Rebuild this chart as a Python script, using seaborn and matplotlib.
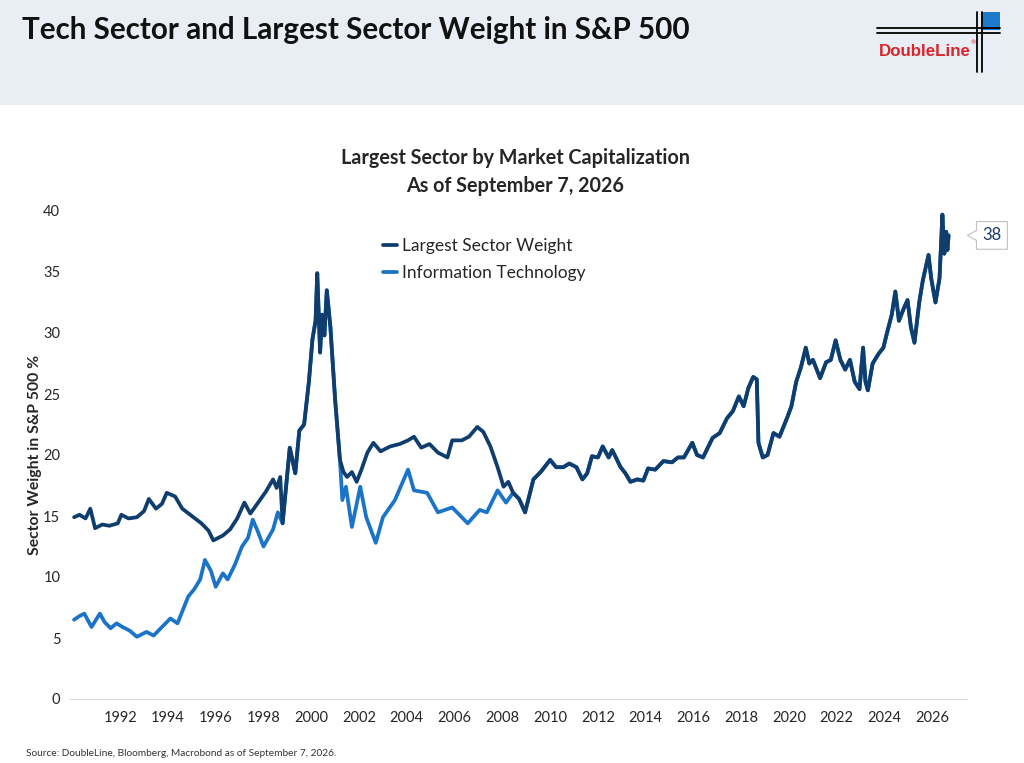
import seaborn as sns
import matplotlib.pyplot as plt
import pandas as pd
import numpy as np
from matplotlib.path import Path
from matplotlib.patches import Rectangle

# --- Data (decimal years, % of S&P 500) ---
largest_years = [
    1990.07, 1990.30, 1990.55, 1990.75, 1990.95, 1991.25, 1991.55, 1991.90,
    1992.05, 1992.35, 1992.70, 1993.00, 1993.20, 1993.50, 1993.75, 1993.95,
    1994.30, 1994.60, 1995.00, 1995.40, 1995.70, 1995.90, 1996.30, 1996.60,
    1996.90, 1997.20, 1997.45, 1997.85, 1998.10, 1998.40, 1998.55, 1998.70,
    1998.80, 1998.95, 1999.10, 1999.33, 1999.50, 1999.70, 1999.90, 2000.05,
    2000.18, 2000.25, 2000.37, 2000.45, 2000.55, 2000.65, 2000.80, 2001.00,
    2001.20, 2001.35, 2001.50, 2001.70, 2001.90, 2002.10, 2002.35, 2002.60,
    2002.90, 2003.30, 2003.70, 2004.05, 2004.30, 2004.60, 2004.95, 2005.30,
    2005.70, 2005.90, 2006.30, 2006.60, 2006.95, 2007.20, 2007.50, 2007.80,
    2008.05, 2008.25, 2008.45, 2008.70, 2008.95,
    2009.30, 2009.60, 2010.00, 2010.25, 2010.55, 2010.80, 2011.10, 2011.35,
    2011.55, 2011.75, 2012.00, 2012.20, 2012.45, 2012.60, 2012.95, 2013.15,
    2013.36, 2013.65, 2013.90, 2014.10, 2014.40, 2014.74, 2015.10, 2015.35,
    2015.60, 2015.95, 2016.15, 2016.40, 2016.60, 2016.80, 2017.10, 2017.40,
    2017.65, 2017.90, 2018.10, 2018.30, 2018.50, 2018.65, 2018.72, 2018.90,
    2019.10, 2019.35, 2019.60, 2019.93, 2020.10, 2020.15, 2020.30, 2020.50,
    2020.70, 2020.85, 2021.00, 2021.30, 2021.55, 2021.75, 2021.95, 2022.15,
    2022.35, 2022.55, 2022.75, 2022.95, 2023.10, 2023.20, 2023.30, 2023.50,
    2023.75, 2023.95, 2024.10, 2024.30, 2024.45, 2024.60, 2024.80, 2024.96,
    2025.10, 2025.25, 2025.45, 2025.60, 2025.84, 2025.95, 2026.13, 2026.30,
    2026.42, 2026.50, 2026.58, 2026.63, 2026.68,
]
largest_weight = [
    14.9, 15.1, 14.8, 15.6, 14.0, 14.3, 14.2, 14.4,
    15.1, 14.8, 14.9, 15.4, 16.4, 15.6, 16.0, 16.9,
    16.6, 15.6, 15.0, 14.4, 13.8, 13.0, 13.4, 13.9,
    14.8, 16.1, 15.2, 16.3, 17.0, 18.0, 17.3, 18.2,
    14.4, 17.5, 20.6, 18.5, 22.0, 22.5, 26.0, 29.5,
    31.0, 34.9, 28.4, 31.5, 29.8, 33.5, 30.5, 24.5,
    19.6, 18.6, 18.2, 18.6, 17.8, 18.8, 20.2, 21.0,
    20.3, 20.7, 20.9, 21.2, 21.5, 20.6, 20.9, 20.2,
    19.8, 21.2, 21.2, 21.5, 22.3, 21.9, 20.7, 19.0,
    17.4, 17.8, 16.9, 16.4, 15.3,
    18.0, 18.6, 19.6, 19.0, 19.0, 19.3, 19.0, 18.0,
    18.5, 19.9, 19.8, 20.7, 19.8, 20.4, 19.0, 18.5,
    17.8, 18.0, 17.9, 18.9, 18.8, 19.5, 19.4, 19.8,
    19.8, 21.0, 20.0, 19.8, 20.6, 21.4, 21.8, 23.0,
    23.6, 24.8, 24.0, 25.5, 26.4, 26.2, 21.0, 19.8,
    20.0, 21.8, 21.5, 23.1, 24.0, 24.5, 26.0, 27.2,
    28.8, 27.5, 27.8, 26.3, 27.6, 27.8, 29.4, 27.8,
    27.0, 27.8, 26.0, 25.4, 28.8, 26.0, 25.3, 27.5,
    28.3, 28.8, 30.0, 31.5, 33.4, 31.0, 32.0, 32.7,
    30.5, 29.2, 32.5, 34.3, 36.4, 34.5, 32.5, 34.5,
    39.7, 36.5, 38.3, 36.8, 38.0,
]

# IT until it becomes the largest sector for good (afterwards it equals the largest weight)
it_years = [
    1990.07, 1990.30, 1990.50, 1990.80, 1991.15, 1991.35, 1991.60, 1991.85,
    1992.10, 1992.40, 1992.70, 1993.10, 1993.40, 1993.70, 1994.10, 1994.40,
    1994.85, 1995.10, 1995.35, 1995.55, 1995.80, 1996.00, 1996.30, 1996.50,
    1996.80, 1997.10, 1997.35, 1997.55, 1997.75, 1998.00, 1998.20, 1998.40,
    1998.60, 1998.80, 1998.95, 1999.10, 1999.33, 1999.50, 1999.70, 1999.90,
    2000.05, 2000.18, 2000.25, 2000.37, 2000.45, 2000.55, 2000.65, 2000.80,
    2001.00, 2001.20, 2001.30, 2001.45, 2001.70, 2002.05, 2002.30, 2002.70,
    2003.00, 2003.50, 2004.05, 2004.30, 2004.85, 2005.30, 2005.90, 2006.55,
    2007.05, 2007.35, 2007.80, 2008.15, 2008.45, 2008.70,
]
it_weight = [
    6.5, 6.8, 7.0, 5.9, 7.0, 6.3, 5.8, 6.2,
    5.9, 5.6, 5.1, 5.5, 5.2, 5.8, 6.6, 6.2,
    8.4, 9.0, 9.8, 11.4, 10.5, 9.2, 10.3, 9.8,
    11.0, 12.5, 13.2, 14.7, 13.8, 12.5, 13.2, 13.9,
    15.3, 14.4, 17.5, 20.6, 18.5, 22.0, 22.5, 26.0,
    29.5, 31.0, 34.9, 28.4, 31.5, 29.8, 33.5, 30.5,
    24.5, 19.6, 16.3, 17.4, 14.1, 17.4, 14.9, 12.8,
    14.9, 16.3, 18.8, 17.1, 16.9, 15.3, 15.7, 14.4,
    15.5, 15.3, 17.1, 16.1, 16.9, 16.4,
]

xtick_years = list(range(1992, 2027, 2))
latest_label = "38"

NAVY = "#0f3d6e"
BLUE = "#1b74c8"
TXT = "#262626"

largest = pd.DataFrame({"year": largest_years, "weight": largest_weight})
it_tail = largest[largest["year"] >= 2008.9]
it = pd.concat([pd.DataFrame({"year": it_years, "weight": it_weight}), it_tail],
               ignore_index=True)

# --- Styling ---
sns.set_style("white")
plt.rcParams["font.family"] = ["Lato", "DejaVu Sans"]

fig = plt.figure(figsize=(10.24, 7.63), dpi=100)
fig.patch.set_facecolor("white")

W, H = 1024, 763
def fx(px): return px / W
def fy(py): return 1 - py / H

# header band
fig.patches.append(Rectangle((0, fy(105)), 1, 105 / H, transform=fig.transFigure,
                             facecolor="#e9edf4", edgecolor="none", zorder=0))
fig.text(fx(22), fy(30), "Tech Sector and Largest Sector Weight in S&P 500",
         fontsize=21.3, fontweight="bold", color="#111111", va="center", ha="left")

# DoubleLine logo
fig.patches.append(Rectangle((fx(981), fy(30)), fx(19), 18 / H, transform=fig.transFigure,
                             facecolor="#1f7acb", edgecolor="none"))
for yy in (28, 33):
    fig.add_artist(plt.Line2D([fx(877), fx(1000)], [fy(yy), fy(yy)], color="black", lw=1.3))
for xx in (977, 982):
    fig.add_artist(plt.Line2D([fx(xx), fx(xx)], [fy(12), fy(72)], color="black", lw=1.3))
fig.text(fx(879), fy(51), "DoubleLine", color="#d8262c", fontsize=12.2, fontweight="bold",
         family=["Liberation Sans", "DejaVu Sans"], va="center", ha="left")
fig.text(fx(971), fy(43), "®", color="#d8262c", fontsize=4.5, va="center", ha="left")

# --- Chart ---
ax_w = (967 - 70) / W
ax = fig.add_axes([70 / W, 1 - 699 / H, ax_w, (699 - 211) / H])
sns.lineplot(data=it, x="year", y="weight", ax=ax, color=BLUE, lw=2.7,
             estimator=None, label="Information Technology")
sns.lineplot(data=largest, x="year", y="weight", ax=ax, color=NAVY, lw=2.7,
             estimator=None, label="Largest Sector Weight")

ax.set_xlim(1989.9, 2027.45)
ax.set_ylim(0, 40)
ax.set_xticks(xtick_years)
ax.set_xticklabels([str(y) for y in xtick_years])
ax.set_yticks(range(0, 41, 5))
ax.tick_params(axis="x", length=5, width=0.8, color="#c8c8c8", labelsize=10.5,
               labelcolor=TXT, pad=4)
ax.tick_params(axis="y", length=0, labelsize=10.5, labelcolor=TXT, pad=7)
for side in ("top", "right", "left"):
    ax.spines[side].set_visible(False)
ax.spines["bottom"].set_color("#d9d9d9")
ax.set_xlabel("")
ax.set_ylabel("Sector Weight in S&P 500 %", fontsize=11.3, fontweight="bold", color=TXT)
ax.yaxis.set_label_coords(fx(42 - 70) / ax_w, 0.5)

fig.text(0.503, fy(158), "Largest Sector by Market Capitalization", ha="center", va="center",
         fontsize=14.2, fontweight="bold", color=TXT)
fig.text(0.503, fy(186), "As of September 7, 2026", ha="center", va="center",
         fontsize=14.2, fontweight="bold", color=TXT)

handles, labels = ax.get_legend_handles_labels()
leg = ax.legend(handles[::-1], labels[::-1], loc="upper left",
                bbox_to_anchor=(fx(374), fy(229)), bbox_transform=fig.transFigure,
                frameon=False, fontsize=12.5, handlelength=0.8, handletextpad=0.3,
                labelspacing=0.65, borderpad=0.0, labelcolor=TXT)
for line in leg.get_lines():
    line.set_linewidth(2.7)


# callout box with a pointer on its left side
def callout(x0, y0, width, height, mutation_size):
    pad = 0.35 * mutation_size
    x0, y0 = x0 - pad, y0 - pad
    w, h = width + 2 * pad, height + 2 * pad
    ym = y0 + h / 2
    tip = 0.55 * mutation_size
    verts = [(x0, y0), (x0 + w, y0), (x0 + w, y0 + h), (x0, y0 + h),
             (x0, ym + 0.18 * h), (x0 - tip, ym), (x0, ym - 0.18 * h), (x0, y0)]
    codes = [Path.MOVETO] + [Path.LINETO] * 6 + [Path.CLOSEPOLY]
    return Path(verts, codes)


ax.annotate(latest_label, xy=(1.0, largest_weight[-1]),
            xycoords=("axes fraction", "data"),
            xytext=(11, 0), textcoords="offset points", ha="left", va="center",
            fontsize=12, color="#1b3a6b",
            bbox=dict(boxstyle=callout, fc="white", ec="#c0c0c0", lw=0.8),
            annotation_clip=False)

fig.text(fx(26), fy(753), "Source: DoubleLine, Bloomberg, Macrobond as of September 7, 2026.",
         fontsize=7.3, color="#333333", ha="left", va="center")

plt.savefig("out.png", dpi=100)
